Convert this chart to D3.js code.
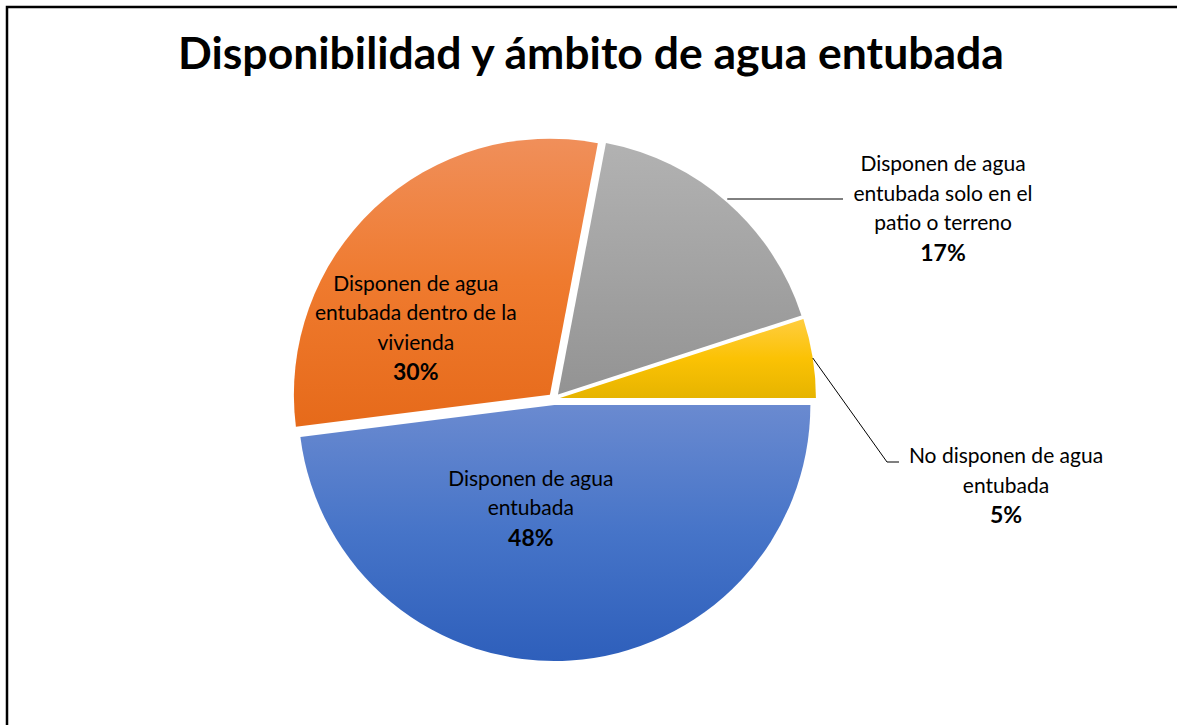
<!DOCTYPE html>
<html>
<head>
<meta charset="utf-8">
<script src="https://cdn.jsdelivr.net/npm/d3@7"></script>
<style>
  body { margin: 0; background: #fff; }
  svg { display: block; font-family: Lato, "Open Sans", sans-serif; }
</style>
</head>
<body>
<script>
// chart data
const categories = [
    'Disponen de agua entubada',
    'Disponen de agua entubada dentro de la vivienda',
    'Disponen de agua entubada solo en el patio o terreno',
    'No disponen de agua entubada'
];
const values = [48, 30, 17, 5];
const labelLines = [
    ['Disponen de agua', 'entubada'],
    ['Disponen de agua', 'entubada dentro de la', 'vivienda'],
    ['Disponen de agua', 'entubada solo en el', 'patio o terreno'],
    ['No disponen de agua', 'entubada']
];
// gradient colours: top, middle, bottom
const sliceColors = [
    ['#6a8ad0', '#4674c8', '#2e5fbb'],
    ['#f08f5a', '#ef7a2e', '#e66a1a'],
    ['#b2b2b2', '#a3a3a3', '#939393'],
    ['#ffcd40', '#fbc204', '#e6b400']
];

const svgValues = {
    width: 1177,
    height: 725,
    cx: 554,
    cy: 399,
    radius: 256,
    explode: 6
};

const svg = d3.select('body')
    .append('svg')
    .attr('width', svgValues.width)
    .attr('height', svgValues.height);

svg // frame
    .append('rect')
    .attr('x', 7)
    .attr('y', 7)
    .attr('width', 1200)
    .attr('height', 760)
    .attr('fill', 'none')
    .attr('stroke', '#000')
    .attr('stroke-width', 2.5);

svg // title
    .append('text')
    .attr('id', 'title')
    .text('Disponibilidad y ámbito de agua entubada')
    .attr('text-anchor', 'middle')
    .attr('x', 591)
    .attr('y', 69)
    .style('font-weight', 'bold')
    .style('font-size', '44.5px');

const defs = svg.append('defs');
sliceColors.forEach((c, i) => {
    const g = defs.append('linearGradient')
        .attr('id', 'grad' + i)
        .attr('x1', 0).attr('y1', 0)
        .attr('x2', 0).attr('y2', 1);
    g.append('stop').attr('offset', '0%').attr('stop-color', c[0]);
    g.append('stop').attr('offset', '50%').attr('stop-color', c[1]);
    g.append('stop').attr('offset', '100%').attr('stop-color', c[2]);
});

const pie = d3.pie()
    .sort(null)
    .startAngle(Math.PI / 2)
    .endAngle(Math.PI / 2 + 2 * Math.PI);

const arcs = pie(values);

const arc = d3.arc()
    .innerRadius(0)
    .outerRadius(svgValues.radius);

function offset(d){
    const a = (d.startAngle + d.endAngle) / 2;
    return [Math.sin(a) * svgValues.explode, -Math.cos(a) * svgValues.explode];
}

const chart = svg.append('g')
    .attr('transform', 'translate(' + svgValues.cx + ',' + svgValues.cy + ')');

chart.selectAll('path')
    .data(arcs)
    .enter()
    .append('path')
    .attr('d', arc)
    .attr('transform', d => 'translate(' + offset(d) + ')')
    .attr('fill', (d, i) => 'url(#grad' + i + ')');

// label placement: inside labels are shifted from the centroid, outside ones get leader lines
const labelArc = d3.arc().innerRadius(0).outerRadius(svgValues.radius * 0.8);
const labelShift = [[-30, 1], [-64, 8], null, null];
const outsideLabels = [null, null, { tx: 943, ty: 164, lx: 843, ly: 199 }, { tx: 1006, ty: 456, lx: 899, ly: 462, bx: 887 }];
const lineHeight = 29.5;

function drawLabel(i, x, y){
    const t = chart.append('text')
        .attr('text-anchor', 'middle')
        .style('font-size', '21px')
        .style('fill', '#000');
    labelLines[i].forEach((line, k) => {
        t.append('tspan')
            .attr('x', x)
            .attr('y', y + k * lineHeight)
            .text(line);
    });
    t.append('tspan')
        .attr('x', x)
        .attr('y', y + labelLines[i].length * lineHeight + 1)
        .style('font-weight', 'bold')
        .style('font-size', '23px')
        .text(values[i] + '%');
}

arcs.forEach((d, i) => {
    const [ox, oy] = offset(d);
    if (labelShift[i]) {
        const c = labelArc.centroid(d);
        const n = labelLines[i].length + 1;
        drawLabel(i, c[0] + ox + labelShift[i][0], c[1] + oy + labelShift[i][1] - (n - 1) * lineHeight / 2 + 7);
    } else {
        const o = outsideLabels[i];
        const a = (d.startAngle + d.endAngle) / 2;
        const sx = Math.sin(a) * svgValues.radius + ox;
        const sy = -Math.cos(a) * svgValues.radius + oy;
        const lx = o.lx - svgValues.cx, ly = o.ly - svgValues.cy;
        const pts = o.bx
            ? [[sx, sy], [o.bx - svgValues.cx, ly], [lx, ly]]
            : [[sx, ly], [lx, ly]];
        chart.append('path')
            .attr('d', d3.line()(pts))
            .attr('fill', 'none')
            .attr('stroke', '#000')
            .attr('stroke-width', 1);
        drawLabel(i, o.tx - svgValues.cx, o.ty - svgValues.cy + 7);
    }
});
</script>
</body>
</html>
